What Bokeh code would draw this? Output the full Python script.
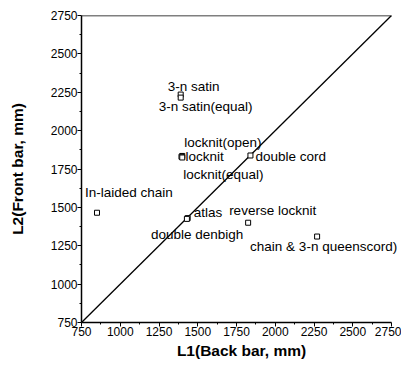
from bokeh.plotting import figure
from bokeh.models import ColumnDataSource, FixedTicker, Range1d, LabelSet
from bokeh.embed import file_html
from bokeh.resources import INLINE
from bokeh.core.properties import value

names = ["3-n satin", "3-n satin(equal)", "locknit(open)", "locknit", "locknit(equal)",
         "double cord", "In-laided chain", "atlas", "reverse locknit", "double denbigh",
         "chain & 3-n queenscord)"]
L1 = [1390, 1390, 1400, 1395, 1400, 1840, 850, 1435, 1825, 1430, 2270]
L2 = [2235, 2215, 1835, 1830, 1825, 1838, 1465, 1430, 1400, 1425, 1310]
ticks = [750, 1000, 1250, 1500, 1750, 2000, 2250, 2500, 2750]
diag = [750, 2750]

# label pixel offsets (style)
dx = [-13, -22, 2, 4, 1, 5, -12, 6, -19, -36, -67]
dy = [8, -9, 13, 0, -17, -1, 20, 6, 12, -16, -10]

FONT = "Liberation Sans"
W, H = 401, 364
LEFT, TOP, BOTTOM = 81, 15, 42
AXIS_PX = 310  # pixel length of the 750..2750 axis
lo, hi = ticks[0], ticks[-1]
x_end = lo + (hi - lo) * (W - LEFT) / AXIS_PX  # let labels run past the axis end

p = figure(width=W, height=H, output_backend="svg", toolbar_location=None,
           x_range=Range1d(lo, x_end), y_range=Range1d(lo, hi))
p.min_border_left = LEFT
p.min_border_right = 0
p.min_border_top = TOP
p.min_border_bottom = BOTTOM
p.grid.visible = False
p.outline_line_color = None
p.background_fill_color = "white"
p.border_fill_color = "white"

# top frame line over the axis extent
p.segment(x0=[lo], y0=[hi], x1=[hi], y1=[hi], line_color="black", line_width=1.3)
p.line(diag, diag, line_color="black", line_width=1.3)
src = ColumnDataSource(dict(x=L1, y=L2, name=names, dx=dx, dy=dy))
p.scatter("x", "y", source=src, marker="square", size=5, fill_color="white",
          line_color="black", line_width=1)
labels = LabelSet(x="x", y="y", text="name", source=src, x_offset="dx", y_offset="dy",
                  text_font=value(FONT), text_font_size=value("13.5px"),
                  text_baseline=value("middle"), text_color=value("black"))
p.add_layout(labels)

for ax in (p.xaxis[0], p.yaxis[0]):
    ax.ticker = FixedTicker(ticks=ticks, minor_ticks=[(a + b) / 2 for a, b in zip(ticks[:-1], ticks[1:])])
    ax.bounds = (lo, hi)
    ax.major_label_text_font = FONT
    ax.major_label_text_font_size = "12px"
    ax.major_label_text_color = "black"
    ax.axis_label_text_font = FONT
    ax.axis_label_text_font_size = "15.5px"
    ax.axis_label_text_font_style = "bold"
    ax.axis_label_text_color = "black"
    ax.axis_line_width = 1.5
    ax.axis_line_color = "black"
    ax.major_tick_line_color = "black"
    ax.minor_tick_line_color = "black"
    ax.major_tick_out = 4
    ax.major_tick_in = 0
    ax.minor_tick_out = 2
    ax.minor_tick_in = 0
    ax.major_label_standoff = 0
p.xaxis.axis_label = "L1(Back bar, mm)"
p.yaxis.axis_label = "L2(Front bar, mm)"
p.xaxis.axis_label_standoff = 3
p.yaxis.axis_label_standoff = 22

open("out.html", "w").write(file_html(p, INLINE))
